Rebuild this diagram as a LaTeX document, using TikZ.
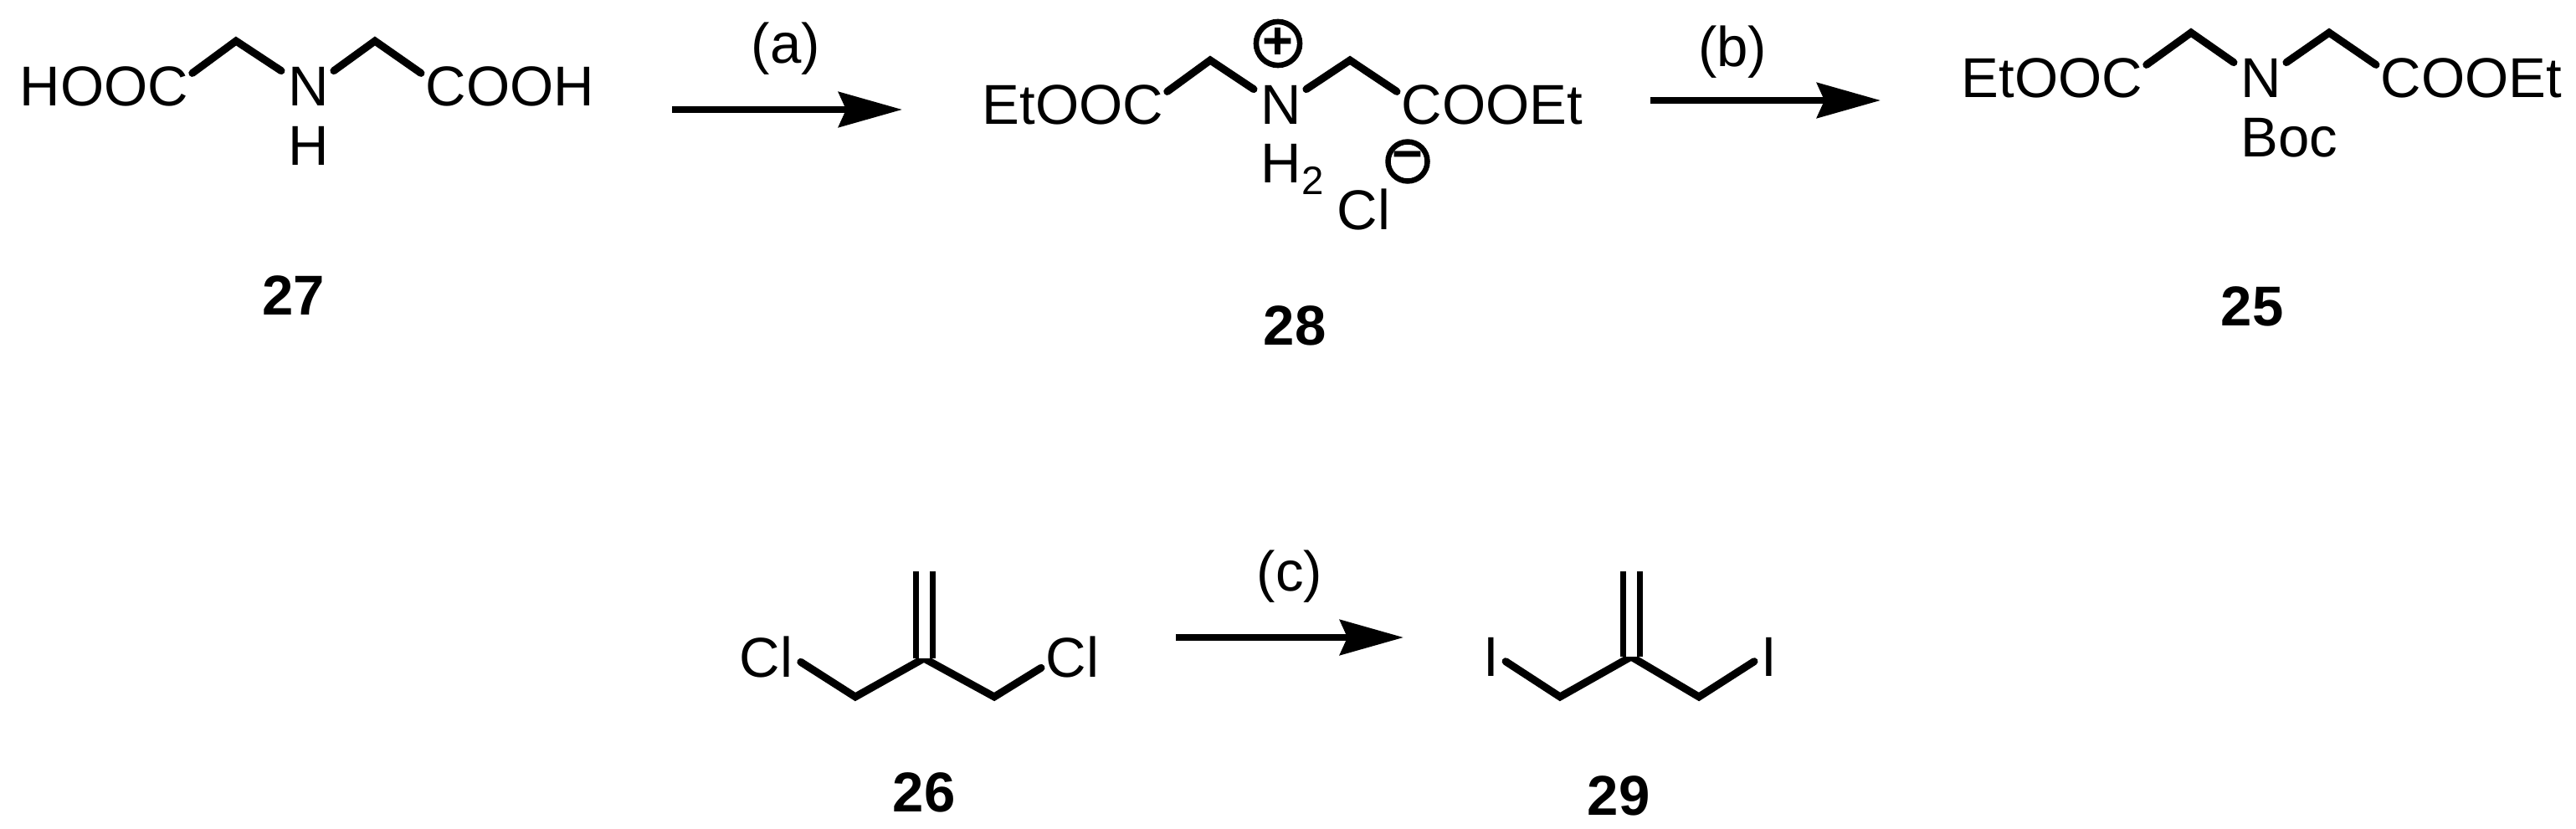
\documentclass[tikz,border=0pt]{standalone}
\usepackage{fontspec}
\setmainfont{Liberation Sans}
\usetikzlibrary{arrows.meta}
\tikzstyle{atom}=[inner sep=0pt, anchor=base west, font=\fontsize{19.1pt}{22pt}\selectfont]
\tikzstyle{cond}=[inner sep=0pt, anchor=base, font=\fontsize{19.1pt}{22pt}\selectfont]
\tikzstyle{cmpd}=[inner sep=0pt, anchor=base, font=\fontsize{19.1pt}{22pt}\selectfont\bfseries]
\tikzstyle{charge}=[circle, draw, line width=0.065cm, inner sep=0pt, minimum size=0.47cm, font=\fontsize{18pt}{18pt}\selectfont\bfseries]
\tikzstyle{bond}=[line width=0.09cm, line join=miter, line cap=round]
\tikzstyle{dbond}=[line width=0.07cm, double, double distance=0.13cm]
\tikzstyle{rxn}=[line width=0.08cm, -{Stealth[length=0.76cm,width=0.42cm,inset=0.09cm]}]
\newcommand{\armbonds}[5]{
 \draw[bond] ([shift={(0.04,-0.09)}]#1.north east) -- (#2) -- ([shift={(-0.08,-0.055)}]#3.north west);
 \draw[bond] ([shift={(0.05,-0.055)}]#3.north east) -- (#4) -- ([shift={(-0.05,-0.09)}]#5.north west);}

\begin{document}
\begin{tikzpicture}

\useasboundingbox (0,0) rectangle (30.78,-9.9);

% top row
\node[atom](hooc) at (0.23,-1.26) {HOOC};
\node[atom](n27) at (3.44,-1.26) {N};
\node[atom](cooh) at (5.08,-1.26) {COOH};
\node[atom](h27) at (3.44,-1.97) {H};
\coordinate (v27a) at (2.82,-0.49);
\coordinate (v27b) at (4.48,-0.49);
\node[cmpd](c27) at (3.51,-3.76) {27};

\node[atom](est28a) at (11.73,-1.48) {EtOOC};
\node[atom](n28) at (15.06,-1.48) {N};
\node[atom](est28b) at (16.74,-1.48) {COOEt};
\node[atom](h28) at (15.06,-2.18) {H\raisebox{-0.14cm}{\fontsize{13.5pt}{16pt}\selectfont 2}};
\node[atom](cl28) at (15.97,-2.74) {Cl};
\node[charge](plus28) at (15.27,-0.52) {+};
\node[charge](minus28) at (16.82,-1.93) {−};
\coordinate (v28a) at (14.46,-0.72);
\coordinate (v28b) at (16.13,-0.72);
\node[cmpd](c28) at (15.47,-4.12) {28};

\node[atom](est25a) at (23.43,-1.16) {EtOOC};
\node[atom](n25) at (26.77,-1.16) {N};
\node[atom](est25b) at (28.44,-1.16) {COOEt};
\node[atom](boc25) at (26.77,-1.87) {Boc};
\coordinate (v25a) at (26.18,-0.39);
\coordinate (v25b) at (27.83,-0.39);
\node[cmpd](c25) at (26.91,-3.89) {25};

\armbonds{hooc}{v27a}{n27}{v27b}{cooh}
\armbonds{est28a}{v28a}{n28}{v28b}{est28b}
\armbonds{est25a}{v25a}{n25}{v25b}{est25b}

% bottom row
\node[atom](cl26a) at (8.83,-8.09) {Cl};
\node[atom](cl26b) at (12.49,-8.09) {Cl};
\coordinate (v26a) at (10.22,-8.33);
\coordinate (v26c) at (11.04,-7.87);
\coordinate (v26b) at (11.88,-8.33);
\coordinate (t26) at (11.04,-6.83);
\node[cmpd](c26) at (11.04,-9.70) {26};

\node[atom](i29a) at (17.72,-8.08) {I};
\node[atom](i29b) at (21.04,-8.08) {I};
\coordinate (v29a) at (18.64,-8.33);
\coordinate (v29c) at (19.49,-7.85);
\coordinate (v29b) at (20.30,-8.33);
\coordinate (t29) at (19.49,-6.83);
\node[cmpd](c29) at (19.34,-9.74) {29};

\draw[bond] ([shift={(0.09,0.19)}]cl26a.south east) -- (v26a) -- (v26c) -- (v26b) -- ([shift={(-0.05,0.12)}]cl26b.south west);
\draw[dbond] (v26c) -- (t26);
\draw[bond] ([shift={(0.07,0.18)}]i29a.south east) -- (v29a) -- (v29c) -- (v29b) -- ([shift={(-0.08,0.18)}]i29b.south west);
\draw[dbond] (v29c) -- (t29);

% reaction arrows
\coordinate (a0) at (8.03,-1.31);
\coordinate (a1) at (10.78,-1.31);
\coordinate (b0) at (19.72,-1.20);
\coordinate (b1) at (22.47,-1.20);
\coordinate (c0) at (14.05,-7.62);
\coordinate (c1) at (16.77,-7.62);
\draw[rxn] (a0) -- (a1);
\draw[rxn] (b0) -- (b1);
\draw[rxn] (c0) -- (c1);
\node[cond](la) at (9.39,-0.75) {(a)};
\node[cond](lb) at (20.70,-0.79) {(b)};
\node[cond](lc) at (15.41,-7.06) {(c)};

\end{tikzpicture}
\end{document}
